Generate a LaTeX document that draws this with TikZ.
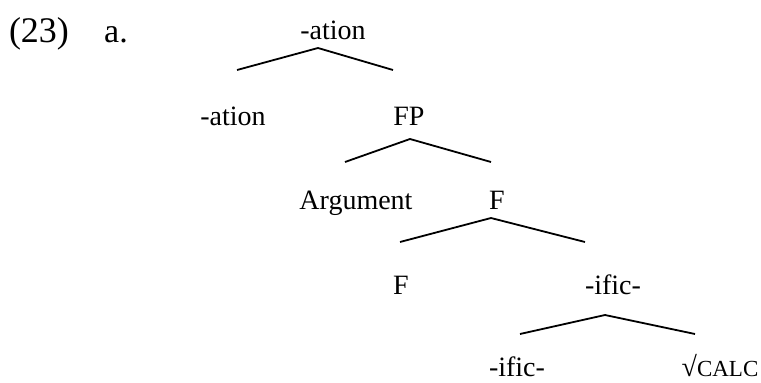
\documentclass[tikz,border=0pt]{standalone}
\usepackage{fontspec}
\setmainfont{Liberation Serif}
\usepackage{tikz}
\usetikzlibrary{positioning}

\begin{document}
\begin{tikzpicture}[x=1pt,y=-1pt,
    every node/.style={align=center, inner sep=0pt},
    lbl/.style={font=\fontsize{28}{28}\selectfont, anchor=base},
    branch/.style={draw=black, line width=1.8pt}]
  \useasboundingbox (0,0) rectangle (761,383);

  % example number
  \node[font=\fontsize{36}{36}\selectfont, anchor=base] (exnum) at (39,42) {(23)};
  \node[font=\fontsize{34}{34}\selectfont, anchor=base] (exlet) at (116,42) {a.};

  % level 1
  \node[lbl] (top) at (333,39) {-ation};
  \coordinate (apA) at (318,48);
  \coordinate (apAL) at (237,70);
  \coordinate (apAR) at (393,70);
  \draw[branch] (apAL) -- (apA) -- (apAR);

  % level 2
  \node[lbl] (ation) at (233,125) {-ation};
  \node[lbl] (fp) at (409,125) {FP};
  \coordinate (apB) at (410,139);
  \coordinate (apBL) at (345,162);
  \coordinate (apBR) at (491,162);
  \draw[branch] (apBL) -- (apB) -- (apBR);

  % level 3
  \node[lbl] (arg) at (356,209) {Argument};
  \node[lbl] (fbar) at (497,209) {F};
  \coordinate (apC) at (491,218);
  \coordinate (apCL) at (400,242);
  \coordinate (apCR) at (585,242);
  \draw[branch] (apCL) -- (apC) -- (apCR);

  % level 4
  \node[lbl] (fhead) at (401,294) {F};
  \node[lbl] (ificP) at (613,294) {-ific-};
  \coordinate (apD) at (605,315);
  \coordinate (apDL) at (520,334);
  \coordinate (apDR) at (695,334);
  \draw[branch] (apDL) -- (apD) -- (apDR);

  % level 5
  \node[lbl] (ific) at (517,376) {-ific-};
  \node[lbl] (root) at (720,376) {√{\fontsize{23}{23}\selectfont CALC}};
\end{tikzpicture}
\end{document}
